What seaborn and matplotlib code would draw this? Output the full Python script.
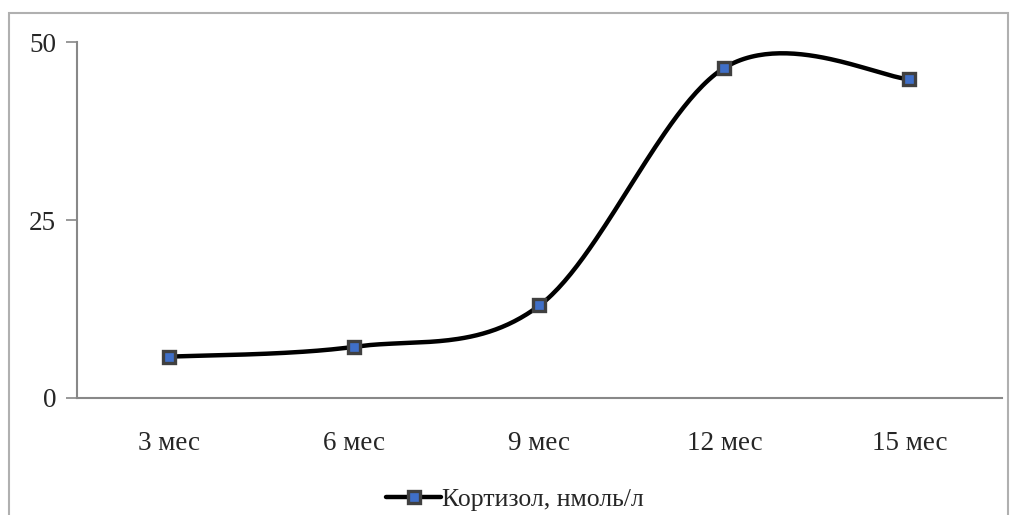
import numpy as np
import pandas as pd
import seaborn as sns
import matplotlib.pyplot as plt
from matplotlib.patches import Rectangle
from matplotlib.lines import Line2D

months = ['3 мес', '6 мес', '9 мес', '12 мес', '15 мес']
cortisol = [5.8, 7.2, 13.0, 46.4, 44.8]
series_name = 'Кортизол, нмоль/л'


def smooth_curve(y: list, n: int = 60) -> tuple:
    """ Сглаживание как в Excel: кривые Безье через точки (Catmull-Rom). """
    x = np.arange(len(y), dtype=float)
    y = np.asarray(y, dtype=float)
    xs, ys = [], []
    for i in range(len(y) - 1):
        p0 = np.array([x[max(i - 1, 0)], y[max(i - 1, 0)]])
        p1 = np.array([x[i], y[i]])
        p2 = np.array([x[i + 1], y[i + 1]])
        p3 = np.array([x[min(i + 2, len(y) - 1)], y[min(i + 2, len(y) - 1)]])
        c1 = p1 + (p2 - p0) / 6
        c2 = p2 - (p3 - p1) / 6
        t = np.linspace(0, 1, n)[:, None]
        pts = ((1 - t) ** 3) * p1 + 3 * ((1 - t) ** 2) * t * c1 + 3 * (1 - t) * t ** 2 * c2 + t ** 3 * p2
        xs.extend(pts[:, 0])
        ys.extend(pts[:, 1])
    return np.array(xs), np.array(ys)


sns.set_style('white')
plt.rcParams['font.family'] = ['Liberation Serif', 'DejaVu Serif']

fig = plt.figure(figsize=(10.1, 5.15), dpi=100)
ax = fig.add_axes([0.0762, 0.2272, 0.9158, 0.6908])

xs, ys = smooth_curve(cortisol)
curve = pd.DataFrame({'x': xs, 'y': ys})
sns.lineplot(data=curve, x='x', y='y', ax=ax, color='black', linewidth=3.2,
             sort=False, estimator=None, zorder=2)
ax.plot(range(len(months)), cortisol, linestyle='none', marker='s', markersize=8,
        markerfacecolor='#3f6fc8', markeredgecolor='#404040', markeredgewidth=2.4, zorder=3)

ax.set_xlim(-0.5, len(months) - 0.5)
ax.set_ylim(0, 50)
ax.set_yticks([0, 25, 50])
ax.set_xticks(range(len(months)))
ax.set_xticklabels(months)
ax.set_xlabel('')
ax.set_ylabel('')
ax.tick_params(axis='y', length=8, width=1.2, color='#888888', labelsize=19.5, pad=7, left=True)
ax.tick_params(axis='x', length=0, labelsize=19.5, pad=24)

for side in ['top', 'right']:
    ax.spines[side].set_visible(False)
for side in ['left', 'bottom']:
    ax.spines[side].set_color('#888888')
    ax.spines[side].set_linewidth(1.5)

handle = Line2D([0], [0], color='black', linewidth=3.2, marker='s', markersize=8,
                markerfacecolor='#3f6fc8', markeredgecolor='#404040', markeredgewidth=2.4)
fig.legend([handle], [series_name], loc='center', bbox_to_anchor=(0.51, 0.03),
           frameon=False, fontsize=18.5, handlelength=2.15, handletextpad=0.05)

fig.patches.append(Rectangle((9 / 1010, -0.01), 999 / 1010, 1 - 13 / 515 + 0.01,
                             transform=fig.transFigure, fill=False,
                             edgecolor='#b0b0b0', linewidth=1.5))

fig.savefig('out.png', dpi=100)
